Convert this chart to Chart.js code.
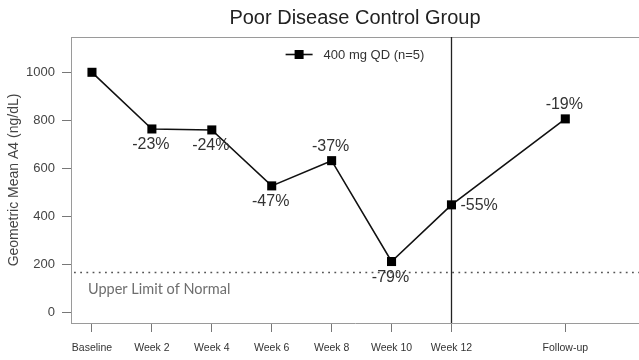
<!DOCTYPE html>
<html>
<head>
<meta charset="utf-8">
<script src="https://cdn.jsdelivr.net/npm/chart.js@4/dist/chart.umd.min.js"></script>
<style>
  html, body { margin: 0; padding: 0; background: #fff; }
  canvas { display: block; }
</style>
</head>
<body>
<canvas id="c" width="639" height="360"></canvas>
<script>
// ---- data ----
const categories = ['Baseline', 'Week 2', 'Week 4', 'Week 6', 'Week 8', 'Week 10', 'Week 12', 'Follow-up'];
const weekPositions = [0, 2, 4, 6, 8, 10, 12, 15.8];
const meanA4 = [1000, 764, 760, 527, 632, 212, 448, 806];
const pctChange = ['', '-23%', '-24%', '-47%', '-37%', '-79%', '-55%', '-19%'];
const labelPlacement = ['none', 'below', 'below', 'below', 'above', 'below', 'right', 'above'];
const yTickValues = [0, 200, 400, 600, 800, 1000];
const upperLimitNormal = 170;
const treatmentEndWeek = 12;
const seriesName = '400 mg QD (n=5)';
const chartTitle = 'Poor Disease Control Group';
const yAxisTitle = 'Geometric Mean A4 (ng/dL)';
const ulnText = 'Upper Limit of Normal';

const FONT = '"Liberation Sans", Arial, sans-serif';

const decorPlugin = {
  id: 'decor',
  beforeDatasetsDraw(chart) {
    const { ctx, chartArea: a, scales } = chart;
    ctx.save();
    // top border
    ctx.strokeStyle = '#9a9a9a';
    ctx.lineWidth = 1;
    ctx.beginPath();
    ctx.moveTo(a.left, a.top + 0.5);
    ctx.lineTo(a.right, a.top + 0.5);
    ctx.stroke();
    // ULN dotted line
    const yU = Math.round(scales.y.getPixelForValue(upperLimitNormal)) + 0.5;
    ctx.strokeStyle = '#555';
    ctx.lineWidth = 1.6;
    ctx.setLineDash([1.8, 4.4]);
    ctx.beginPath();
    ctx.moveTo(a.left + 3, yU);
    ctx.lineTo(a.right, yU);
    ctx.stroke();
    ctx.setLineDash([]);
    // ULN text
    ctx.fillStyle = '#6e6e6e';
    ctx.font = '14.5px Lato, "Open Sans", sans-serif';
    ctx.textAlign = 'left';
    ctx.textBaseline = 'middle';
    ctx.fillText(ulnText, a.left + 17, yU + 17);
    // vertical line at end of treatment
    const xV = Math.round(scales.x.getPixelForValue(treatmentEndWeek)) + 0.5;
    ctx.strokeStyle = '#222';
    ctx.lineWidth = 1.3;
    ctx.beginPath();
    ctx.moveTo(xV, a.top);
    ctx.lineTo(xV, a.bottom);
    ctx.stroke();
    ctx.restore();
  },
  afterDatasetsDraw(chart) {
    const { ctx, chartArea: a } = chart;
    const meta = chart.getDatasetMeta(0);
    ctx.save();
    ctx.fillStyle = '#333';
    ctx.font = '16px ' + FONT;
    meta.data.forEach((pt, i) => {
      const pos = labelPlacement[i];
      if (pos === 'none') return;
      const t = pctChange[i];
      if (pos === 'below') {
        ctx.textAlign = 'center'; ctx.textBaseline = 'middle';
        ctx.fillText(t, pt.x - 1, pt.y + 16);
      } else if (pos === 'above') {
        ctx.textAlign = 'center'; ctx.textBaseline = 'middle';
        ctx.fillText(t, pt.x - 1, pt.y - 14);
      } else if (pos === 'right') {
        ctx.textAlign = 'left'; ctx.textBaseline = 'middle';
        ctx.fillText(t, pt.x + 9, pt.y + 1);
      }
    });
    // title
    ctx.fillStyle = '#222';
    ctx.font = '20px ' + FONT;
    ctx.textAlign = 'center';
    ctx.textBaseline = 'middle';
    ctx.fillText(chartTitle, (a.left + a.right) / 2, 18);
    // legend
    const ly = a.top + 17.5;
    ctx.font = '13px ' + FONT;
    const tw = ctx.measureText(seriesName).width;
    const total = 27 + 11 + tw;
    const lx = (a.left + a.right) / 2 - total / 2;
    ctx.strokeStyle = '#111';
    ctx.lineWidth = 1.6;
    ctx.beginPath();
    ctx.moveTo(lx, ly);
    ctx.lineTo(lx + 27, ly);
    ctx.stroke();
    ctx.fillStyle = '#000';
    ctx.fillRect(lx + 13.5 - 4.5, ly - 4.5, 9, 9);
    ctx.fillStyle = '#333';
    ctx.textAlign = 'left';
    ctx.fillText(seriesName, lx + 38, ly + 1);
    ctx.restore();
  }
};

new Chart(document.getElementById('c'), {
  type: 'line',
  data: {
    datasets: [{
      label: seriesName,
      data: weekPositions.map((w, i) => ({ x: w, y: meanA4[i] })),
      borderColor: '#111',
      borderWidth: 1.6,
      tension: 0,
      pointStyle: 'rect',
      pointRadius: 6.4,
      pointHoverRadius: 6.4,
      pointBackgroundColor: '#000',
      pointBorderWidth: 0,
      clip: false
    }]
  },
  options: {
    responsive: false,
    devicePixelRatio: 1,
    animation: false,
    events: [],
    layout: { autoPadding: false, padding: { top: 37, right: 0, left: 0, bottom: 0 } },
    plugins: {
      legend: { display: false },
      title: { display: false },
      tooltip: { enabled: false }
    },
    scales: {
      x: {
        type: 'linear',
        min: -0.7,
        max: 18.26,
        afterBuildTicks(scale) {
          scale.ticks = weekPositions.map(v => ({ value: v }));
        },
        afterFit(scale) {
          scale.height = 37;
          scale.paddingLeft = 0;
          scale.paddingRight = 0;
        },
        ticks: {
          autoSkip: false,
          maxRotation: 0,
          minRotation: 0,
          padding: 10,
          color: '#333',
          font: { family: FONT, size: 10.5 },
          callback(v) {
            const i = weekPositions.indexOf(v);
            return i >= 0 ? categories[i] : '';
          }
        },
        grid: {
          display: true,
          drawOnChartArea: false,
          drawTicks: true,
          tickLength: 9,
          tickColor: '#777',
          color: '#777'
        },
        border: { display: true, color: '#9a9a9a', width: 1 }
      },
      y: {
        type: 'linear',
        min: -44,
        max: 1147,
        afterBuildTicks(scale) {
          scale.ticks = yTickValues.map(v => ({ value: v }));
        },
        afterFit(scale) {
          scale.width = 71;
          scale.paddingTop = 0;
          scale.paddingBottom = 0;
        },
        ticks: {
          padding: 7,
          color: '#444',
          font: { family: FONT, size: 13 },
          callback(v) { return String(v); }
        },
        grid: {
          display: true,
          drawOnChartArea: false,
          drawTicks: true,
          tickLength: 9,
          tickColor: '#777',
          color: '#777'
        },
        border: { display: true, color: '#9a9a9a', width: 1 },
        title: {
          display: true,
          text: yAxisTitle,
          color: '#444',
          font: { family: FONT, size: 14 },
          padding: { top: 6, bottom: 0 }
        }
      }
    }
  },
  plugins: [decorPlugin]
});
</script>
</body>
</html>
